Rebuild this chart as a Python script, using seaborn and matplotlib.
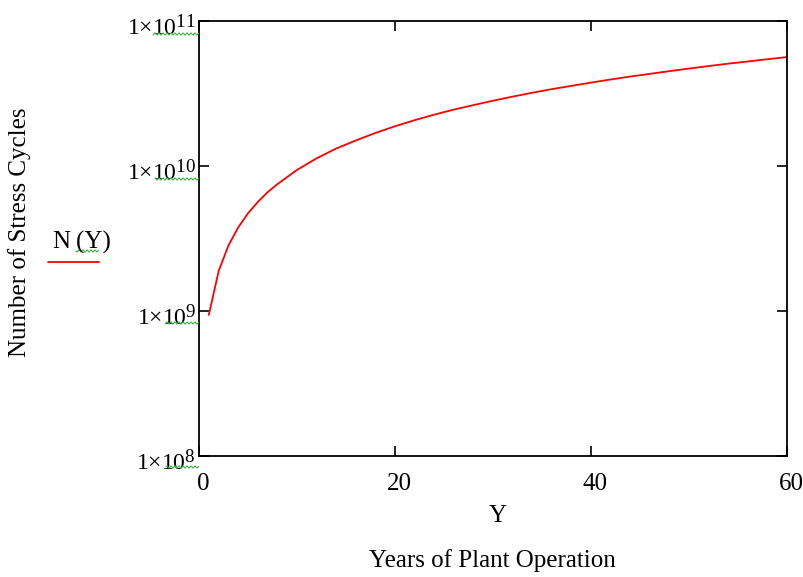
# Number of stress cycles vs. years of plant operation (Mathcad-style log plot)

import numpy as np
import pandas as pd
import seaborn as sns
import matplotlib
matplotlib.use("Agg")
import matplotlib.pyplot as plt
import matplotlib._mathtext as mathtext_internal
from matplotlib.lines import Line2D
from matplotlib.ticker import NullLocator
from matplotlib.transforms import ScaledTranslation

# --- data ---
years = [1, 2, 3, 4, 5, 6, 7, 8, 10, 12, 14, 16, 18, 20, 22, 24, 26, 28, 30,
         32, 34, 36, 38, 40, 42, 44, 46, 48, 50, 52, 54, 56, 58, 60]
cycles_e9 = [0.94, 1.88, 2.83, 3.77, 4.72, 5.65, 6.6, 7.5, 9.4, 11.3, 13.2,
             15.0, 16.9, 18.8, 20.7, 22.6, 24.5, 26.3, 28.2, 30.1, 32.0, 33.9,
             35.7, 37.6, 39.5, 41.4, 43.2, 45.1, 47.0, 48.9, 50.8, 52.6, 54.5,
             56.4]
x_ticks = [0, 20, 40, 60]
y_ticks = [1e8, 1e9, 1e10, 1e11]
y_tick_labels = [r"$\mathregular{1{\times}10^{8}}$", r"$\mathregular{1{\times}10^{9}}$",
                 r"$\mathregular{1{\times}10^{10}}$", r"$\mathregular{1{\times}10^{11}}$"]

df = pd.DataFrame({"Y": years, "N": [v * 1e9 for v in cycles_e9]})

sns.set_style("white")
plt.rcParams["font.family"] = ["Liberation Serif", "DejaVu Serif"]
plt.rcParams["mathtext.fontset"] = "custom"
plt.rcParams["mathtext.rm"] = "Liberation Serif"
plt.rcParams["text.color"] = "black"
# Mathcad superscripts are bigger than mathtext's default
mathtext_internal.SHRINK_FACTOR = 0.8

W, H = 804, 577
fig = plt.figure(figsize=(W / 100, H / 100), dpi=100)
ax = fig.add_axes([199 / W, 1 - 456 / H, 588 / W, 435 / H])

sns.lineplot(data=df, x="Y", y="N", color="#ff0000", linewidth=1.3, ax=ax)

ax.set_yscale("log")
ax.set_xlim(0, 60)
ax.set_ylim(1e8, 1e11)
ax.set_xticks(x_ticks)
ax.set_xticklabels([str(t) for t in x_ticks], fontsize=18)
ax.set_yticks(y_ticks)
ax.set_yticklabels(y_tick_labels, fontsize=17)
ax.yaxis.set_minor_locator(NullLocator())
ax.tick_params(axis="both", direction="in", length=7, width=1.2,
               top=True, right=True, bottom=True, left=True, colors="black")
ax.tick_params(axis="x", pad=12)
ax.tick_params(axis="y", pad=2)
for spine in ax.spines.values():
    spine.set_color("black")
    spine.set_linewidth(1.3)
ax.set_xlabel("")
ax.set_ylabel("")

# nudge tick labels like Mathcad places them
for lab in ax.get_yticklabels():
    lab.set_transform(lab.get_transform() + ScaledTranslation(0, -4 / 100, fig.dpi_scale_trans))
for lab in ax.get_xticklabels():
    lab.set_transform(lab.get_transform() + ScaledTranslation(4 / 100, 0, fig.dpi_scale_trans))


def fx(px):
    return px / W


def fy(py):
    return 1 - py / H


fig.text(fx(20), fy(232), "Number of Stress Cycles", rotation=90,
         ha="center", va="center", fontsize=18)
fig.text(fx(498), fy(516), "Y", ha="center", va="center", fontsize=18)
fig.text(fx(492), fy(561), "Years of Plant Operation", ha="center",
         va="center", fontsize=18)

# legend entry, Mathcad style
fig.text(fx(53), fy(242), "N\u2009(Y)", ha="left", va="center", fontsize=18)
fig.add_artist(Line2D([fx(48), fx(99)], [fy(262), fy(262)], color="#ff0000",
                      linewidth=1.3))


# green wavy underlines (Mathcad markers)
def squiggle(x0, x1, y):
    xs = np.arange(x0, x1, 0.5)
    ys = y + 1.0 * np.sin(xs * np.pi / 2)
    fig.add_artist(Line2D(fx(xs), fy(ys), color="#3cb043", linewidth=0.8))


squiggle(153, 199, 34)
squiggle(155, 199, 179)
squiggle(165, 199, 323)
squiggle(166, 199, 467)
squiggle(76, 99, 251)

plt.savefig("out.png", dpi=100)
